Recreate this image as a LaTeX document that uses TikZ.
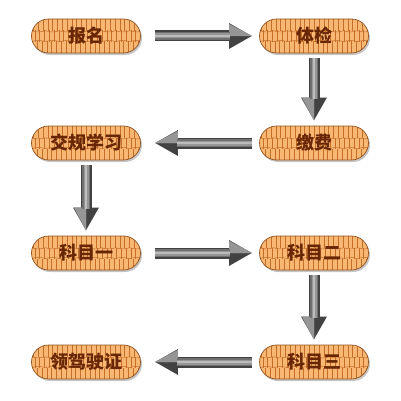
\documentclass[tikz,border=0pt]{standalone}
\usepackage{fontspec}
\usepackage{tikz}
\usetikzlibrary{arrows.meta,shadows}
\newfontfamily\cjk{Noto Sans CJK SC}

\definecolor{skinfill}{RGB}{248,184,116}
\definecolor{skinline}{RGB}{196,110,40}
\definecolor{stagetext}{RGB}{105,38,5}
\definecolor{arrowdark}{RGB}{66,66,66}
\definecolor{arrowmid}{RGB}{112,112,112}
\definecolor{arrowsoft}{RGB}{150,150,150}
\definecolor{arrowlight}{RGB}{188,188,188}

\tikzset{
  skin/.style={draw=skinline, line width=0.5pt},
  stage/.style={draw=skinline!75!black, line width=0.7pt, fill=skinfill,
    rounded corners=17pt, minimum width=109pt, minimum height=34pt,
    inner sep=0pt, text=stagetext, font=\cjk\bfseries\fontsize{18}{18}\selectfont,
    drop shadow={shadow xshift=1.5pt, shadow yshift=-2pt, opacity=0.45},
    path picture={
      \begin{scope}[sharp corners]
        \foreach \i in {0,...,23}
          {
            \draw[skin] ([xshift=\i*4.8pt+1pt]path picture bounding box.south west) -- +(0pt, 11.5pt);
            \draw[skin] ([xshift=\i*4.8pt+3.4pt, yshift=11pt]path picture bounding box.south west) -- +(0pt, 11.5pt);
            \draw[skin] ([xshift=\i*4.8pt+2pt, yshift=22pt]path picture bounding box.south west) -- +(0pt, 12pt);
          }
        \draw[skin] ([yshift=11.3pt]path picture bounding box.south west)
          \foreach \k in {1,...,8} { .. controls +(3.5pt, 1.6pt) and +(-3.5pt, 1.6pt) .. +(\k*14pt, 0pt) };
        \draw[skin] ([yshift=22.3pt]path picture bounding box.south west)
          \foreach \k in {1,...,8} { .. controls +(3.5pt, -1.6pt) and +(-3.5pt, -1.6pt) .. +(\k*14pt, 0pt) };
      \end{scope}
    }},
  flow/.style={line width=11pt, draw=arrowdark, -{Triangle[length=23pt, width=24pt]}},
  flowtip/.style={line width=0.1pt, draw=arrowsoft, -{Triangle[length=23pt, width=24pt]}},
  flowmid/.style={line width=8pt, draw=arrowmid},
  flowsoft/.style={line width=5pt, draw=arrowsoft},
  flowlight/.style={line width=2pt, draw=arrowlight},
  hright/.style={shorten <=14pt, shorten >=7pt},
  hleft/.style={shorten <=7pt, shorten >=14pt},
  vdown/.style={shorten <=5pt, shorten >=5pt},
  hright tip/.style={-{Triangle[length=23pt, width=24pt, left]}},
  hleft tip/.style={-{Triangle[length=23pt, width=24pt, right]}},
  vdown tip/.style={-{Triangle[length=23pt, width=24pt, right]}},
  hright mid/.style={shorten >=29pt, yshift=1.5pt},
  hleft mid/.style={shorten >=36pt, yshift=1.5pt},
  vdown mid/.style={shorten >=27pt, xshift=-1.5pt},
  hright soft/.style={shorten >=29pt, yshift=3pt},
  hleft soft/.style={shorten >=36pt, yshift=3pt},
  vdown soft/.style={shorten >=27pt, xshift=-3pt},
  hright light/.style={shorten >=29pt, yshift=4pt},
  hleft light/.style={shorten >=36pt, yshift=4pt},
  vdown light/.style={shorten >=27pt, xshift=-4pt}
}

\begin{document}
\begin{tikzpicture}[x=1pt, y=1pt]
\useasboundingbox (0,0) rectangle (401,400);
\foreach \n/\x/\y/\t in {bm/86/364/报名, tj/314/364/体检, jf/314/257/缴费, jg/86/257/交规学习,
    k1/86/147/科目一, k2/314/147/科目二, k3/314/38/科目三, lz/86/38/领驾驶证}
  {
    \node[stage] (\n) at (\x, \y) {\t};
  }
% grey block arrows: dark base, lighter half head, lighter strips on the shaft
\foreach \a/\b/\d in {bm/tj/hright, tj/jf/vdown, jf/jg/hleft, jg/k1/vdown,
    k1/k2/hright, k2/k3/vdown, k3/lz/hleft}
  {
    \draw[flow, \d] (\a) -- (\b);
    \draw[flowtip, \d, \d\space tip] (\a) -- (\b);
    \draw[flowmid, \d, \d\space mid] (\a) -- (\b);
    \draw[flowsoft, \d, \d\space soft] (\a) -- (\b);
    \draw[flowlight, \d, \d\space light] (\a) -- (\b);
  }
\end{tikzpicture}
\end{document}
